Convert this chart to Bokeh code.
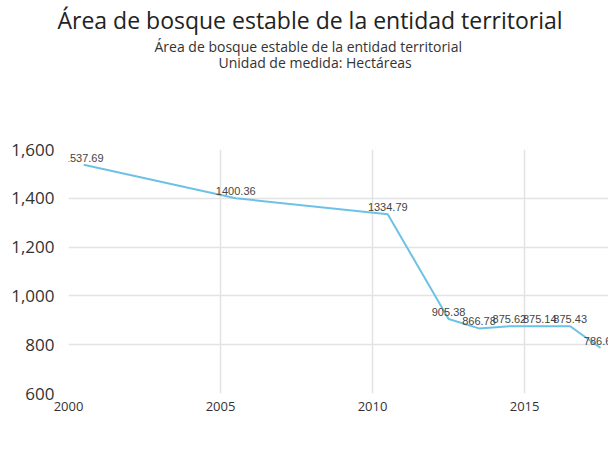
from bokeh.plotting import figure
from bokeh.models import ColumnDataSource, Title, Legend, LegendItem, NumeralTickFormatter, FixedTicker, Range1d
from bokeh.embed import file_html
from bokeh.resources import INLINE

years = [2000, 2005, 2010, 2012, 2013, 2014, 2015, 2016, 2017]
area_ha = [1537.69, 1400.36, 1334.79, 905.38, 866.78, 875.62, 875.14, 875.43, 786.64]
series_name = "Tununguá"
x_ticks = [2000, 2005, 2010, 2015]
y_ticks = [600, 800, 1000, 1200, 1400, 1600]

FONT = "Open Sans"
LINE_COLOR = "#6EC1E6"

source = ColumnDataSource(dict(
    x=[y + 0.5 for y in years],  # values recorded at mid-year
    y=area_ha,
    label=[f"{v:.2f}" for v in area_ha],
))

p = figure(frame_width=540, frame_height=244, output_backend="svg", toolbar_location=None,
           x_range=Range1d(2000, 2017.76), y_range=Range1d(600, 1600),
           min_border_left=68, min_border_right=0, min_border_top=0, min_border_bottom=0)
p.outline_line_color = None
p.background_fill_color = "white"
p.border_fill_color = "white"

p.add_layout(Title(text=" ", text_font_size="10px", standoff=68), "above")
p.add_layout(Title(text="Unidad de medida: Hectáreas", align="left", text_font=FONT,
                   text_font_size="14px", text_font_style="normal", text_color="#333333",
                   standoff=-6, offset=150), "above")
p.add_layout(Title(text="Área de bosque estable de la entidad territorial", align="left", text_font=FONT,
                   text_font_size="14px", text_font_style="normal", text_color="#333333",
                   standoff=-4, offset=86), "above")
p.add_layout(Title(text="Área de bosque estable de la entidad territorial", align="left", text_font=FONT,
                   text_font_size="23px", text_font_style="normal", text_color="#222222",
                   standoff=2, offset=-11), "above")

line = p.line("x", "y", source=source, line_color=LINE_COLOR, line_width=2)
p.text("x", "y", text="label", source=source, text_font_size="11px", text_color="#444444",
       text_align="center", text_baseline="bottom", y_offset=-3)

p.xaxis.ticker = FixedTicker(ticks=x_ticks)
p.yaxis.ticker = FixedTicker(ticks=y_ticks)
p.yaxis.formatter = NumeralTickFormatter(format="0,0")
for ax in (p.xaxis[0], p.yaxis[0]):
    ax.axis_line_color = None
    ax.major_tick_line_color = None
    ax.minor_tick_line_color = None
    ax.major_tick_out = 0
    ax.minor_tick_out = 0
    ax.major_label_text_font = FONT
    ax.major_label_text_color = "#333333"
p.xaxis.major_label_text_font_size = "13px"
p.yaxis.major_label_text_font_size = "17px"
p.xaxis.major_label_standoff = 8
p.yaxis.major_label_standoff = 14

p.xgrid.grid_line_color = "#e3e3e3"
p.ygrid.grid_line_color = "#e3e3e3"
p.xgrid.grid_line_width = 1.5
p.ygrid.grid_line_width = 1.5

legend = Legend(items=[LegendItem(label=series_name, renderers=[line])], orientation="horizontal",
                location=(179, 12), border_line_color=None, background_fill_alpha=0,
                label_text_font=FONT, label_text_font_size="13px", label_text_color="#333333",
                glyph_width=25, padding=0, margin=0)
p.add_layout(legend, "below")

open("out.html", "w").write(file_html(p, INLINE))
